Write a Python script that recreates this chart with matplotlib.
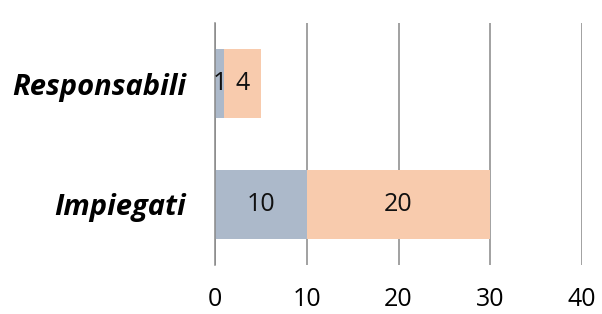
import matplotlib
matplotlib.use("Agg")
import matplotlib.pyplot as plt
import numpy as np

categories = ["Impiegati", "Responsabili"]
series1 = [10, 1]
series2 = [20, 4]
xticks = [0, 10, 20, 30, 40]

c1 = "#ACB9CA"
c2 = "#F8CBAD"

fig = plt.figure(figsize=(6.02, 3.14), dpi=100)
ax = fig.add_axes([215/602, 1-265/314, (582-215)/602, (265-23)/314])

y = np.arange(len(categories))
h = 0.57
b1 = ax.barh(y, series1, height=h, color=c1, zorder=2)
b2 = ax.barh(y, series2, left=series1, height=h, color=c2, zorder=2)

for bars, vals, lefts in ((b1, series1, [0]*len(series1)), (b2, series2, series1)):
    for yi, v, l in zip(y, vals, lefts):
        ax.text(l + v/2, yi, str(v), ha="center", va="center", fontsize=18,
                family="Open Sans", color="#111111", zorder=3)

ax.set_xlim(0, 40)
ax.set_ylim(-0.5, 1.5)
ax.set_xticks(xticks)
ax.set_xticklabels([str(t) for t in xticks], fontsize=18, family="Open Sans")
ax.set_yticks(y)
ax.set_yticklabels(categories, fontsize=21, family="Open Sans", fontweight="bold", fontstyle="italic")
ax.tick_params(axis="both", length=0)
ax.tick_params(axis="x", pad=16)
ax.tick_params(axis="y", pad=21)
ax.grid(axis="x", color="#888888", linewidth=1.1, zorder=0)
for s in ["top", "right", "bottom"]:
    ax.spines[s].set_visible(False)
ax.spines["left"].set_color("#888888")
ax.spines["left"].set_linewidth(1.1)

fig.savefig("out.png", dpi=100)
